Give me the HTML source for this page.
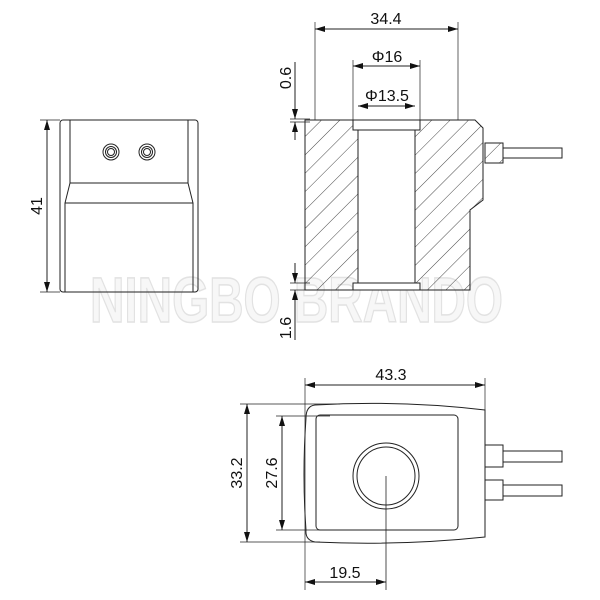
<!DOCTYPE html>
<html><head><meta charset="utf-8"><style>body{margin:0;background:#fff}svg{display:block}</style></head><body>
<svg width="600" height="600" viewBox="0 0 600 600" xmlns="http://www.w3.org/2000/svg" font-family="Liberation Sans, sans-serif">
<defs>
<pattern id="h" patternUnits="userSpaceOnUse" width="13" height="13" patternTransform="rotate(45)">
<line x1="0" y1="0" x2="0" y2="13" stroke="#333" stroke-width="0.9"/>
</pattern>
<marker id="a" viewBox="0 0 10 6" refX="10" refY="3" markerWidth="10" markerHeight="6" orient="auto-start-reverse" markerUnits="userSpaceOnUse"><path d="M0,0 L10,3 L0,6 z" fill="#111"/></marker>
</defs>
<!-- watermark -->
<text x="90" y="322" font-size="64" font-weight="bold" style="font-weight:700" fill="#f7f7f7" stroke="#e2e2e2" stroke-width="1.5" textLength="413" lengthAdjust="spacingAndGlyphs">NINGBO BRANDO</text>
<g fill="none" stroke="#222" stroke-width="1">
<!-- left view -->
<rect x="60" y="120" width="138" height="172" rx="3"/>
<line x1="70" y1="120" x2="70" y2="183"/><line x1="188" y1="120" x2="188" y2="183"/>
<line x1="70" y1="183" x2="188" y2="183"/>
<path d="M70,183 L65,203 L65,292 M188,183 L193,203 L193,292"/>
<line x1="65" y1="203" x2="193" y2="203"/>
<circle cx="111" cy="152" r="8"/><circle cx="111" cy="152" r="5.5"/><circle cx="111" cy="152" r="3.5"/>
<circle cx="147" cy="152" r="8"/><circle cx="147" cy="152" r="5.5"/><circle cx="147" cy="152" r="3.5"/>
<line x1="40" y1="120" x2="60" y2="120" stroke-width="0.7"/><line x1="40" y1="292" x2="60" y2="292" stroke-width="0.7"/>
<line x1="47" y1="120" x2="47" y2="292" marker-start="url(#a)" marker-end="url(#a)"/>
<!-- middle section view -->
<path d="M305,120 L475,120 L483,128 L483,200 L470,210 L470,290 L305,290 Z" fill="url(#h)"/>
<rect x="358" y="130" width="57" height="153" fill="#fff"/>
<rect x="353" y="120" width="67" height="10" fill="#fff"/>
<rect x="353" y="283" width="67" height="7" fill="#fff"/>
<path d="M353,120 V130 H358 V283 H353 V290 M420,120 V130 H415 V283 H420 V290"/>
<rect x="485" y="143" width="18" height="20" fill="url(#h)"/>
<rect x="503" y="148" width="59" height="10" fill="#fff"/>
<!-- dims middle -->
<g stroke-width="0.7"><line x1="315" y1="22" x2="315" y2="120"/><line x1="458" y1="22" x2="458" y2="120"/>
<line x1="353" y1="60" x2="353" y2="120"/><line x1="420" y1="60" x2="420" y2="120"/>
<line x1="290" y1="119" x2="310" y2="119"/><line x1="290" y1="122" x2="310" y2="122"/>
<line x1="290" y1="283" x2="310" y2="283"/><line x1="290" y1="290" x2="310" y2="290"/></g>
<line x1="315" y1="29" x2="458" y2="29" marker-start="url(#a)" marker-end="url(#a)"/>
<line x1="353" y1="66" x2="420" y2="66" marker-start="url(#a)" marker-end="url(#a)"/>
<line x1="358" y1="106" x2="415" y2="106" marker-start="url(#a)" marker-end="url(#a)"/>
<line x1="295" y1="62" x2="295" y2="119" marker-end="url(#a)"/>
<line x1="295" y1="140" x2="295" y2="122" marker-end="url(#a)"/>
<line x1="295" y1="263" x2="295" y2="283" marker-end="url(#a)"/>
<line x1="295" y1="340" x2="295" y2="290" marker-end="url(#a)"/>
<!-- bottom view -->
<path d="M315,405 Q400,400 485,410 L485,537 Q400,546 315,542 Q305,540 306,530 Q302,475 306,418 Q306,406 315,405 Z"/>
<rect x="316" y="415" width="142" height="115" rx="4"/>
<circle cx="386" cy="476" r="33"/><circle cx="386" cy="476" r="29"/>
<line x1="386" y1="476" x2="386" y2="590" stroke-width="0.8"/>
<rect x="485" y="445" width="18" height="22"/><rect x="485" y="480" width="18" height="20"/>
<rect x="503" y="451" width="59" height="11"/><rect x="503" y="485" width="59" height="11"/>
<g stroke-width="0.7"><line x1="305" y1="378" x2="305" y2="590"/><line x1="485" y1="378" x2="485" y2="410"/>
<line x1="240" y1="404" x2="340" y2="404"/><line x1="240" y1="542" x2="320" y2="542"/>
<line x1="276" y1="416" x2="330" y2="416"/><line x1="276" y1="530" x2="330" y2="530"/></g>
<line x1="305" y1="385" x2="485" y2="385" marker-start="url(#a)" marker-end="url(#a)"/>
<line x1="247" y1="404" x2="247" y2="542" marker-start="url(#a)" marker-end="url(#a)"/>
<line x1="282" y1="416" x2="282" y2="530" marker-start="url(#a)" marker-end="url(#a)"/>
<line x1="305" y1="582" x2="386" y2="582" marker-start="url(#a)" marker-end="url(#a)"/>
</g>
<g font-size="16" fill="#111" text-anchor="middle">
<text x="386" y="24">34.4</text>
<text x="387" y="62">Φ16</text>
<text x="387" y="101">Φ13.5</text>
<text x="391" y="380">43.3</text>
<text x="345" y="578">19.5</text>
<text transform="translate(42,206) rotate(-90)">41</text>
<text transform="translate(291,78) rotate(-90)">0.6</text>
<text transform="translate(291,328) rotate(-90)">1.6</text>
<text transform="translate(242,473) rotate(-90)">33.2</text>
<text transform="translate(277,473) rotate(-90)">27.6</text>
</g>
</svg>
</body></html>
